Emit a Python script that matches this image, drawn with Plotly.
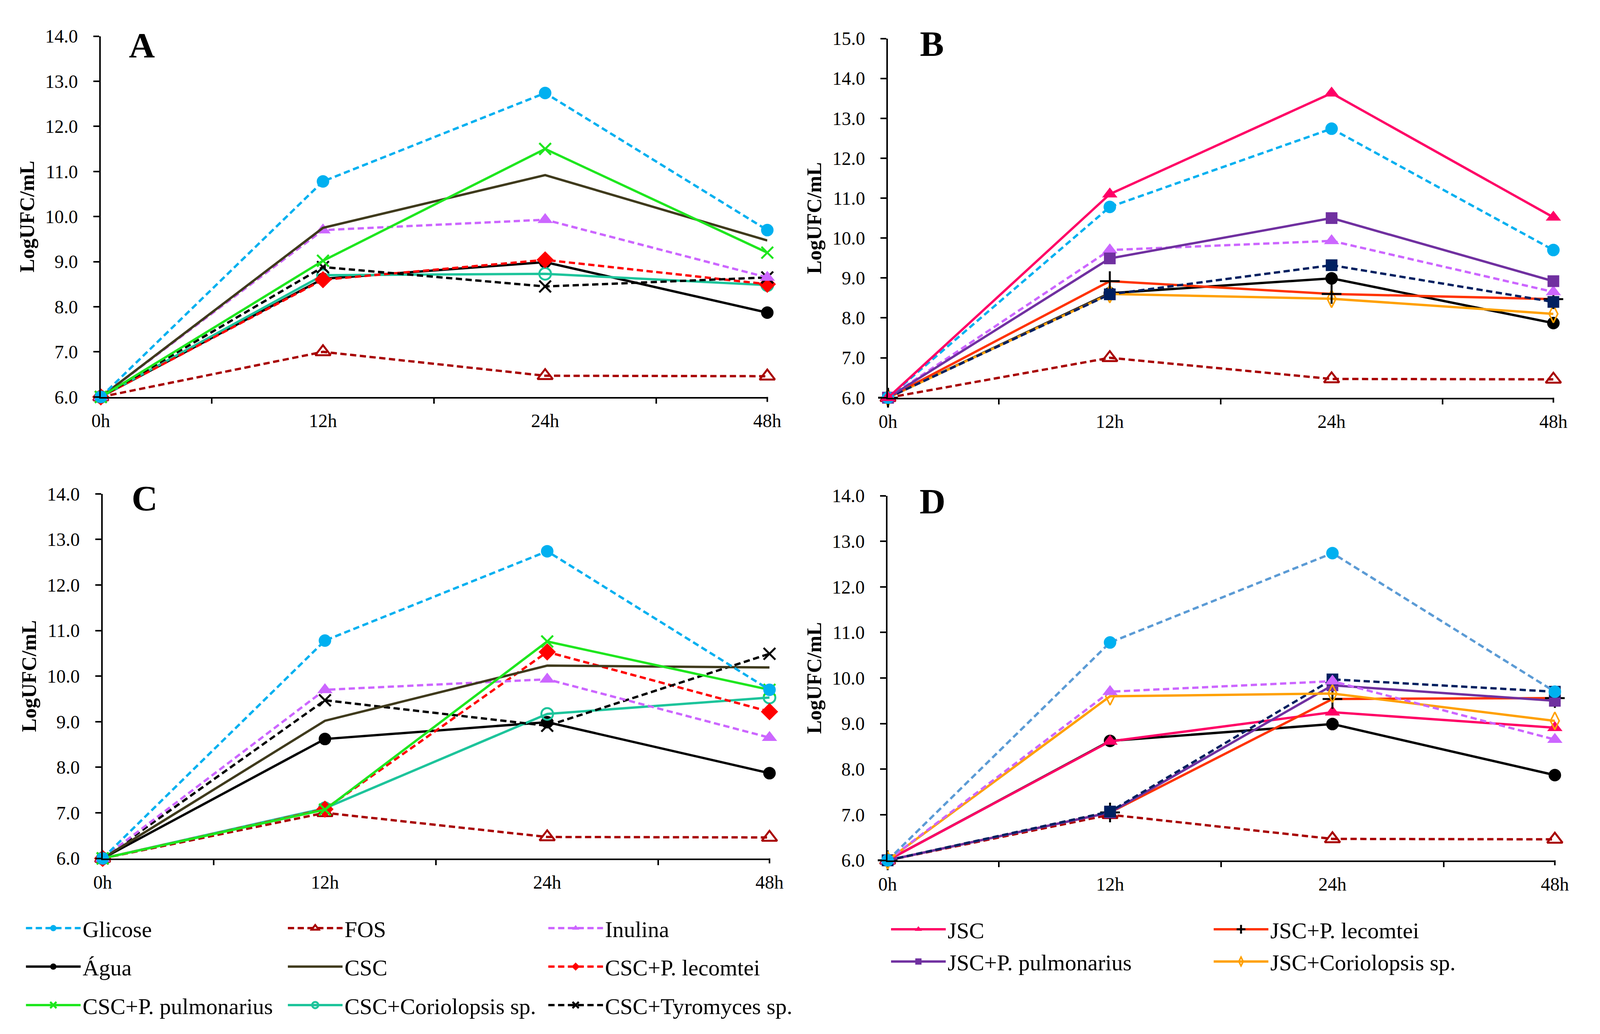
import plotly.graph_objects as go

# ---------------- data ----------------
times = ["0h", "12h", "24h", "48h"]

glicose = [6.0, 10.78, 12.74, 9.70]
fos = [6.0, 7.00, 6.47, 6.46]
inulina = [6.0, 9.70, 9.93, 8.65]
agua = [6.0, 8.62, 8.99, 7.87]

# panel A (CSC series)
csc_a = [6.0, 9.75, 10.92, 9.47]
csc_lec_a = [6.0, 8.60, 9.04, 8.50]
csc_pul_a = [6.0, 9.02, 11.50, 9.20]
csc_cor_a = [6.0, 8.70, 8.73, 8.48]
csc_tyr_a = [6.0, 8.88, 8.45, 8.65]

# panel C (CSC series)
csc_c = [6.0, 9.02, 10.23, 10.19]
csc_lec_c = [6.0, 7.08, 10.53, 9.22]
csc_pul_c = [6.0, 7.07, 10.76, 9.70]
csc_cor_c = [6.0, 7.10, 9.17, 9.53]
csc_tyr_c = [6.0, 9.47, 8.91, 10.49]

# panel B (JSC series)
jsc_b = [6.0, 11.10, 13.63, 10.52]
jsc_lec_b = [6.0, 8.92, 8.60, 8.47]
jsc_pul_b = [6.0, 9.49, 10.50, 8.92]
jsc_cor_b = [6.0, 8.60, 8.48, 8.10]
jsc_tyr_b = [6.0, 8.59, 9.32, 8.40]

# panel D (JSC series)
jsc_d = [6.0, 8.61, 9.25, 8.91]
jsc_lec_d = [6.0, 7.05, 9.54, 9.56]
jsc_pul_d = [6.0, 7.05, 9.84, 9.50]
jsc_cor_d = [6.0, 9.60, 9.66, 9.06]
jsc_tyr_d = [6.0, 7.07, 9.97, 9.70]

panel_letters = ["A", "B", "C", "D"]
y_title = "LogUFC/mL"

# ---------------- styles ----------------
FONT = "Liberation Serif"
LW = 6
DASH = "16px,9px"

styles = {
    "Glicose": dict(color="#00B0F0", dash=DASH, symbol="circle", msize=32),
    "FOS": dict(color="#A80000", dash=DASH, symbol="triangle-up-open", msize=34, mlw=5),
    "Inulina": dict(color="#CC66FF", dash=DASH, symbol="triangle-up", msize=34),
    "Água": dict(color="#000000", dash="solid", symbol="circle", msize=32),
    "CSC": dict(color="#3F3A1C", dash="solid", symbol=None, msize=0),
    "CSC+P. lecomtei": dict(color="#FF0000", dash=DASH, symbol="diamond", msize=34),
    "CSC+P. pulmonarius": dict(color="#1EE61E", dash="solid", symbol="x-thin", msize=30, mlw=5),
    "CSC+Coriolopsis sp.": dict(color="#1DC49B", dash="solid", symbol="circle-open", msize=30, mlw=5),
    "CSC+Tyromyces sp.": dict(color="#000000", dash=DASH, symbol="x-thin", msize=30, mlw=5),
    "JSC": dict(color="#FF0066", dash="solid", symbol="triangle-up", msize=34),
    "JSC+P. lecomtei": dict(color="#FF3300", dash="solid", symbol="cross-thin", msize=36, mlw=5, mcolor="#000000"),
    "JSC+P. pulmonarius": dict(color="#7030A0", dash="solid", symbol="square", msize=30),
    "JSC+Coriolopsis sp.": dict(color="#FFA000", dash="solid", symbol="diamond-tall-open", msize=32, mlw=4),
    "JSC+Tyromyces sp.": dict(color="#002060", dash=DASH, symbol="square", msize=30),
}

# legend box and rank (order inside each box) for every named series
legend_of = {
    "Glicose": ("legend", 1), "Água": ("legend", 2), "CSC+P. pulmonarius": ("legend", 3),
    "FOS": ("legend2", 1), "CSC": ("legend2", 2), "CSC+Coriolopsis sp.": ("legend2", 3),
    "Inulina": ("legend3", 1), "CSC+P. lecomtei": ("legend3", 2), "CSC+Tyromyces sp.": ("legend3", 3),
    "JSC": ("legend4", 1), "JSC+P. pulmonarius": ("legend4", 2),
    "JSC+P. lecomtei": ("legend5", 1), "JSC+Coriolopsis sp.": ("legend5", 2),
}

fig = go.Figure()
shown = set()


def add(panel, name, y, line_color=None):
    st = styles[name]
    ax = "" if panel == 1 else str(panel)
    lc = line_color or st["color"]
    mcolor = st.get("mcolor", st["color"])
    mode = "lines+markers" if st["symbol"] else "lines"
    marker = {}
    if st["symbol"]:
        marker = dict(symbol=st["symbol"], size=st["msize"], color=mcolor,
                      line=dict(color=mcolor, width=st.get("mlw", 0)))
    in_legend = name in legend_of and name not in shown
    if in_legend:
        shown.add(name)
    leg, rank = legend_of.get(name, ("legend", 99))
    fig.add_trace(go.Scatter(
        x=times, y=y, name=name, mode=mode,
        line=dict(color=lc, width=LW, dash=st["dash"]),
        marker=marker, cliponaxis=False,
        xaxis="x" + ax, yaxis="y" + ax,
        showlegend=in_legend, legendgroup=name, legendrank=rank,
        legend=leg,
    ))


# Panel A
add(1, "FOS", fos)
add(1, "Água", agua)
add(1, "CSC+Coriolopsis sp.", csc_cor_a)
add(1, "CSC+P. lecomtei", csc_lec_a)
add(1, "CSC+Tyromyces sp.", csc_tyr_a)
add(1, "Inulina", inulina)
add(1, "CSC", csc_a)
add(1, "CSC+P. pulmonarius", csc_pul_a)
add(1, "Glicose", glicose)

# Panel C
add(3, "FOS", fos)
add(3, "Água", agua)
add(3, "CSC+Coriolopsis sp.", csc_cor_c)
add(3, "CSC+P. lecomtei", csc_lec_c)
add(3, "CSC+Tyromyces sp.", csc_tyr_c)
add(3, "Inulina", inulina)
add(3, "CSC", csc_c)
add(3, "CSC+P. pulmonarius", csc_pul_c)
add(3, "Glicose", glicose)

# Panel B
add(2, "FOS", fos)
add(2, "Água", agua)
add(2, "JSC+Coriolopsis sp.", jsc_cor_b)
add(2, "JSC+P. lecomtei", jsc_lec_b)
add(2, "JSC+Tyromyces sp.", jsc_tyr_b)
add(2, "Inulina", inulina)
add(2, "JSC+P. pulmonarius", jsc_pul_b)
add(2, "Glicose", glicose)
add(2, "JSC", jsc_b)

# Panel D
add(4, "FOS", fos)
add(4, "Água", agua)
add(4, "JSC", jsc_d)
add(4, "JSC+P. lecomtei", jsc_lec_d)
add(4, "JSC+P. pulmonarius", jsc_pul_d)
add(4, "JSC+Tyromyces sp.", jsc_tyr_d)
add(4, "JSC+Coriolopsis sp.", jsc_cor_d)
add(4, "Inulina", inulina)
add(4, "Glicose", glicose, line_color="#5B9BD5")

# ---------------- layout ----------------
W, H = 4310, 2646
# plot-area boxes in reference pixels: (x0, x1, ytop, ybottom)
boxes = {
    1: (250, 2072, 68, 1010),
    2: (2402, 4221, 74, 1012),
    3: (255, 2078, 1263, 2215),
    4: (2401, 4225, 1268, 2220),
}
yranges = {1: [6, 14], 2: [6, 15], 3: [6, 14], 4: [6, 14]}

layout = dict(
    width=W, height=H,
    margin=dict(l=0, r=0, t=0, b=0, pad=0),
    paper_bgcolor="white", plot_bgcolor="white",
    font=dict(family=FONT, size=48, color="black"),
)

for p, (x0, x1, yt, yb) in boxes.items():
    ax = "" if p == 1 else str(p)
    layout["xaxis" + ax] = dict(
        domain=[x0 / W, x1 / W], anchor="y" + ax, type="category",
        range=[0, 3], showgrid=False, zeroline=False,
        showline=True, linecolor="black", linewidth=4,
        ticks="outside", tickson="boundaries", ticklen=13, tickwidth=4, tickcolor="black",
        tickfont=dict(family=FONT, size=48, color="black"),
        ticklabelstandoff=16,
    )
    layout["yaxis" + ax] = dict(
        domain=[1 - yb / H, 1 - yt / H], anchor="x" + ax,
        range=yranges[p], dtick=1, tickformat=".1f",
        showgrid=False, zeroline=False,
        showline=True, linecolor="black", linewidth=4,
        ticks="outside", ticklen=15, tickwidth=4, tickcolor="black",
        tickfont=dict(family=FONT, size=48, color="black"),
        ticklabelstandoff=30,
        title=dict(text="<b>" + y_title + "</b>", font=dict(family=FONT, size=52, color="black"),
                   standoff=12),
    )

annotations = []
letter_pos = {1: (362, 92), 2: (2522, 88), 3: (369, 1275), 4: (2523, 1283)}
for p, letter in zip([1, 2, 3, 4], panel_letters):
    lx, ly = letter_pos[p]
    annotations.append(dict(
        text="<b>" + letter + "</b>", x=lx / W, y=1 - ly / H, xref="paper", yref="paper",
        xanchor="center", yanchor="middle", showarrow=False,
        font=dict(family=FONT, size=92, color="black"),
    ))
layout["annotations"] = annotations

legend_font = dict(family=FONT, size=58, color="black")


def leg(xpx, ytop_px, gap):
    return dict(x=xpx / W, y=1 - ytop_px / H, xanchor="left", yanchor="top",
                orientation="v", font=legend_font, bgcolor="rgba(0,0,0,0)",
                borderwidth=0, tracegroupgap=gap, itemwidth=140, traceorder="grouped",
                itemclick=False, itemdoubleclick=False)


layout["legend"] = leg(40, 2352, 20)
layout["legend2"] = leg(756, 2352, 20)
layout["legend3"] = leg(1468, 2352, 20)
layout["legend4"] = leg(2405, 2355, 4)
layout["legend5"] = leg(3287, 2355, 4)

fig.update_layout(**layout)

# small closing tick at the right end of each x axis
for p in boxes:
    ax = "" if p == 1 else str(p)
    fig.add_shape(type="line", xref="x" + ax + " domain", yref="y" + ax + " domain",
                  x0=1, x1=1, y0=0, y1=-13 / (boxes[p][3] - boxes[p][2]),
                  line=dict(color="black", width=4))

# fit the figure to the real browser viewport (keeps all proportions of the layout)
post = """
var gd = document.getElementById('{plot_id}');
document.documentElement.style.margin = '0';
document.body.style.margin = '0';
document.documentElement.style.overflow = 'hidden';
document.body.style.overflow = 'hidden';
Plotly.relayout(gd, {width: window.innerWidth, height: window.innerHeight});
"""

fig.write_html("out.html", post_script=post, config={"displayModeBar": False})
